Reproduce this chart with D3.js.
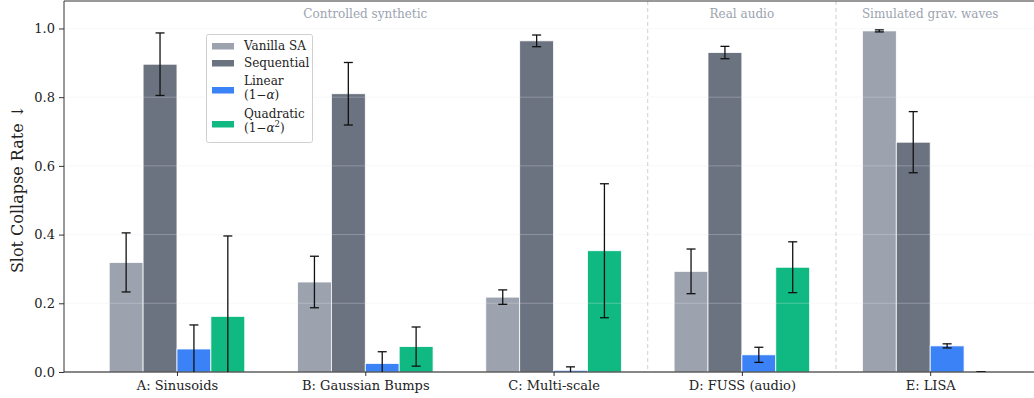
<!DOCTYPE html>
<html><head><meta charset="utf-8">
<script src="https://cdn.jsdelivr.net/npm/d3@7"></script>
<style>body{margin:0;background:#fff}svg{display:block}text{font-family:"DejaVu Serif",serif}</style>
</head><body><svg id="c" width="1034" height="398"></svg>
<script>
const categories = ["A: Sinusoids","B: Gaussian Bumps","C: Multi-scale","D: FUSS (audio)","E: LISA"];
const seriesNames = ["Vanilla SA","Sequential","Linear","Quadratic"];
const vanilla   = [0.319,0.262,0.218,0.293,0.993];
const vanillaErr= [0.086,0.075,0.021,0.065,0.003];
const sequential= [0.896,0.810,0.964,0.930,0.669];
const sequentialErr=[0.091,0.091,0.017,0.018,0.089];
const linear    = [0.067,0.025,0.005,0.050,0.076];
const linearErr = [0.070,0.034,0.010,0.022,0.006];
const quadratic = [0.162,0.074,0.353,0.305,0.000];
const quadraticErr=[0.234,0.057,0.195,0.074,0.000];
const yTicks = [0,0.2,0.4,0.6,0.8,1.0];
const sections = [{label:"Controlled synthetic",at:1},{label:"Real audio",at:3},{label:"Simulated grav. waves",at:4}];
const dividers = [2.5,3.5];
const colors = ["#9ca3af","#6b7280","#3b82f6","#10b981"];

const series = [vanilla,sequential,linear,quadratic];
const errs = [vanillaErr,sequentialErr,linearErr,quadraticErr];

const svg = d3.select("#c");
const L=64, T=1, B=372;
const x = d3.scaleLinear().domain([-0.6,4.6]).range([L, L+5.2*188.3]);
const y = d3.scaleLinear().domain([0,1.08]).range([B,T]);
const bw = 0.18;

const plot = svg.append("g");
plot.append("defs").append("clipPath").attr("id","clp").append("rect")
  .attr("x",L).attr("y",T).attr("width",1034-L).attr("height",B-T);

// bars
const gb = plot.append("g").attr("clip-path","url(#clp)");
series.forEach((s,si)=>{
  gb.selectAll(null).data(s).enter().append("rect")
    .attr("x",(d,i)=>x(i+(si-2)*bw))
    .attr("width",x(bw)-x(0))
    .attr("y",d=>y(d)).attr("height",d=>y(0)-y(d))
    .attr("fill",colors[si]).attr("stroke","#fff").attr("stroke-width",0.8);
});
// grid
gb.selectAll(null).data(yTicks).enter().append("line")
  .attr("x1",L).attr("x2",1034).attr("y1",d=>y(d)).attr("y2",d=>y(d))
  .attr("stroke","#e5e7eb").attr("stroke-opacity",0.3).attr("stroke-width",1);
// error bars
series.forEach((s,si)=>{
  s.forEach((v,i)=>{
    const cx = x(i+(si-1.5)*bw);
    const lo = y(v-errs[si][i]), hi = y(v+errs[si][i]);
    gb.append("line").attr("x1",cx).attr("x2",cx).attr("y1",lo).attr("y2",hi)
      .attr("stroke","#111").attr("stroke-width",1.3);
    [lo,hi].forEach(yy=>gb.append("line").attr("x1",cx-4.5).attr("x2",cx+4.5)
      .attr("y1",yy).attr("y2",yy).attr("stroke","#111").attr("stroke-width",1.3));
  });
});
// dividers
plot.selectAll(null).data(dividers).enter().append("line")
  .attr("x1",d=>x(d)).attr("x2",d=>x(d)).attr("y1",T).attr("y2",B)
  .attr("stroke","#c8c8c8").attr("stroke-width",0.9).attr("stroke-dasharray","4,3");
// section labels
plot.selectAll(null).data(sections).enter().append("text")
  .attr("x",d=>x(d.at)).attr("y",18).attr("text-anchor","middle")
  .attr("font-size",12).attr("fill","#9ca3af").text(d=>d.label);

// axes
const yAxis = d3.axisLeft(y).tickValues(yTicks).tickFormat(d3.format(".1f")).tickSize(5).tickPadding(4);
const gy = svg.append("g").attr("transform",`translate(${L},0)`).call(yAxis);
gy.select(".domain").remove();
gy.selectAll("text").attr("font-size",13).attr("fill","#222").style("font-family","DejaVu Serif");
gy.selectAll("line").attr("stroke","#333");
const xAxis = d3.axisBottom(x).tickValues(d3.range(categories.length)).tickFormat(i=>categories[i]).tickSize(4).tickPadding(5);
const gx = svg.append("g").attr("transform",`translate(0,${B})`).call(xAxis);
gx.select(".domain").remove();
gx.selectAll("text").attr("font-size",13).attr("fill","#222").style("font-family","DejaVu Serif");
gx.selectAll("line").attr("stroke","#333");
// spines
svg.append("line").attr("x1",L).attr("x2",L).attr("y1",T).attr("y2",B).attr("stroke","#333").attr("stroke-width",1);
svg.append("line").attr("x1",L).attr("x2",1034).attr("y1",B).attr("y2",B).attr("stroke","#111").attr("stroke-width",1);
svg.append("line").attr("x1",L).attr("x2",1034).attr("y1",T).attr("y2",T).attr("stroke","#333").attr("stroke-width",1);

// y label
svg.append("text").attr("transform",`translate(23,189) rotate(-90)`)
  .attr("text-anchor","middle").attr("font-size",16).attr("fill","#222").text("Slot Collapse Rate \u2193");

// legend
const lg = svg.append("g");
lg.append("rect").attr("x",206.5).attr("y",34.5).attr("width",106).attr("height",108).attr("rx",2)
  .attr("fill","#fff").attr("fill-opacity",0.9).attr("stroke","#d0d0d0");
const items = [
  {lines:["Vanilla SA"], cy:46, base:[50]},
  {lines:["Sequential"], cy:63, base:[67]},
  {lines:["Linear","(1\u2212\u03b1)"], cy:90, base:[85,99]},
  {lines:["Quadratic","(1\u2212\u03b1\u00b2)"], cy:124, base:[118,132]}
];
items.forEach((it,i)=>{
  lg.append("rect").attr("x",212).attr("y",it.cy-3).attr("width",22).attr("height",6.5).attr("fill",colors[i]);
  it.lines.forEach((t,j)=>{
    const tx = lg.append("text").attr("x",244).attr("y",it.base[j])
      .attr("font-size",12).attr("fill","#222");
    if(t.startsWith("(")){
      const m = t.match(/^\(1\u2212(\u03b1)(\u00b2?)\)$/);
      tx.append("tspan").text("(1\u2212");
      tx.append("tspan").attr("font-style","italic").text("\u03b1");
      if(m[2]) tx.append("tspan").attr("font-size",8.5).attr("dy",-5).text("2");
      tx.append("tspan").attr("dy",m[2]?5:0).text(")");
    } else tx.text(t);
  });
});
</script></body></html>
